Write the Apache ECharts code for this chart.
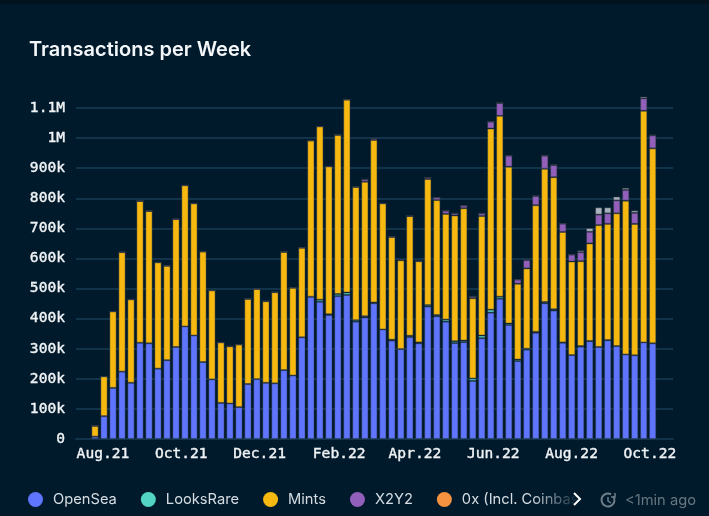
<!DOCTYPE html>
<html lang="en">
<head>
    <meta charset="UTF-8">
    <title>Transactions per Week</title>
    <script src="https://cdn.jsdelivr.net/npm/echarts@6/dist/echarts.min.js"></script>
    <style>
        body, html {
            margin: 0;
            height: 100%;
            background: #001a2c;
        }
        #main {
            width: 709px;
            height: 516px;
        }
    </style>
</head>
<body>
<div id="main"></div>

<script>
    // weekly buckets, thousands of transactions
    const firstWeek = Date.UTC(2021, 6, 26);
    const opensea = [8, 76, 170, 224, 187, 320, 318, 234, 262, 306, 374, 344, 256, 198, 120, 118, 106, 183, 199, 187, 185, 229, 211, 338, 473, 456, 412, 475, 479, 390, 404, 451, 364, 327, 299, 339, 318, 440, 408, 390, 319, 322, 193, 335, 420, 466, 379, 259, 297, 353, 451, 427, 320, 279, 307, 325, 306, 328, 309, 281, 278, 321, 318];
    const looksrare = [0, 0, 0, 0, 0, 0, 0, 0, 0, 0, 0, 0, 0, 0, 0, 0, 0, 0, 0, 0, 0, 0, 0, 0, 0, 7, 3, 7, 8, 5, 4, 3, 0, 3, 0, 4, 3, 5, 4, 7, 6, 5, 8, 9, 10, 7, 5, 5, 3, 3, 4, 4, 1, 0, 2, 1, 0, 1, 0, 0, 0, 0, 0];
    const mints = [36, 132, 254, 397, 277, 471, 440, 353, 314, 425, 469, 439, 367, 296, 201, 190, 208, 283, 300, 271, 303, 393, 292, 298, 519, 576, 491, 529, 641, 443, 447, 540, 419, 342, 295, 398, 270, 419, 382, 351, 418, 440, 267, 397, 602, 601, 521, 252, 267, 421, 443, 439, 367, 311, 282, 324, 405, 386, 441, 511, 437, 770, 648];
    const x2y2 = [0, 0, 0, 0, 0, 0, 0, 0, 0, 0, 0, 0, 0, 0, 0, 0, 0, 0, 0, 0, 0, 0, 0, 0, 0, 0, 0, 0, 0, 0, 8, 5, 0, 0, 3, 0, 0, 5, 9, 11, 7, 9, 6, 9, 23, 43, 37, 14, 28, 31, 44, 41, 28, 23, 30, 39, 35, 35, 43, 36, 37, 41, 43];
    const zeroX = [0, 0, 0, 0, 0, 0, 0, 0, 0, 0, 0, 0, 0, 0, 0, 0, 0, 0, 0, 0, 0, 0, 0, 0, 0, 0, 0, 0, 0, 0, 0, 0, 0, 0, 0, 0, 0, 0, 0, 0, 0, 0, 0, 0, 0, 0, 0, 0, 0, 0, 0, 0, 0, 0, 0, 0, 0, 0, 0, 0, 0, 0, 0];
    const others = [0, 0, 0, 0, 0, 0, 0, 0, 0, 0, 0, 0, 0, 0, 0, 0, 0, 0, 0, 0, 0, 0, 0, 0, 0, 0, 0, 0, 0, 0, 0, 0, 0, 0, 0, 0, 0, 0, 0, 0, 0, 0, 0, 0, 0, 0, 0, 0, 0, 0, 0, 0, 0, 0, 6, 12, 24, 20, 13, 7, 8, 6, 3];

    const tickDates = [Date.UTC(2021, 7, 1), Date.UTC(2021, 9, 1), Date.UTC(2021, 11, 1), Date.UTC(2022, 1, 1), Date.UTC(2022, 3, 1), Date.UTC(2022, 5, 1), Date.UTC(2022, 7, 1), Date.UTC(2022, 9, 1)];
    const tickLabels = ['Aug.21', 'Oct.21', 'Dec.21', 'Feb.22', 'Apr.22', 'Jun.22', 'Aug.22', 'Oct.22'];

    const legendNames = ['OpenSea', 'LooksRare', 'Mints', 'X2Y2', '0x (Incl. Coinbase)'];
    const bg = '#001a2c';
    const gridColor = '#12344a';
    const monoFont = '"DejaVu Sans Mono", monospace';

    function weekly(values) {
        return values.map(function (v, i) {
            return [firstWeek + i * 7 * 86400000, v * 1000];
        });
    }

    function barSeries(name, values, color) {
        return {
            name: name,
            type: 'bar',
            stack: 'tx',
            barWidth: 7.2,
            data: weekly(values),
            itemStyle: {
                color: color,
                borderColor: 'rgba(50,60,70,0.45)',
                borderWidth: 1
            }
        };
    }

    var chart = echarts.init(document.getElementById('main'));

    chart.setOption({
        animation: false,
        backgroundColor: bg,
        title: {
            text: 'Transactions per Week',
            left: 24,
            top: 35,
            textStyle: {
                color: '#f4f7f9',
                fontFamily: 'Inter',
                fontWeight: 600,
                fontSize: 20
            }
        },
        legend: {
            left: 23,
            top: 487,
            itemWidth: 15,
            itemHeight: 15,
            itemGap: 24,
            icon: 'circle',
            data: legendNames,
            itemStyle: { borderWidth: 0 },
            textStyle: {
                color: '#d5dde3',
                fontFamily: 'Inter',
                fontSize: 14.7,
                padding: [0, 0, 0, 5]
            }
        },
        grid: {
            left: 76,
            right: 36,
            top: 93,
            bottom: 77
        },
        xAxis: [
            {
                // bars sit on this one, a time axis so the stack works.
                // the span is a bit tighter than the label axis: echarts keeps
                // half a bar of room at both ends of a bar axis
                type: 'time',
                min: Date.UTC(2021, 6, 14),
                max: Date.UTC(2022, 9, 16),
                axisLine: { onZero: false, lineStyle: { color: gridColor, width: 2 } },
                axisTick: { show: false },
                axisLabel: { show: false },
                splitLine: { show: false }
            },
            {
                // carries the month labels
                type: 'value',
                position: 'bottom',
                min: Date.UTC(2021, 6, 11),
                max: Date.UTC(2022, 9, 19),
                axisLine: { show: false },
                axisTick: { show: false },
                splitLine: { show: false },
                axisLabel: {
                    customValues: tickDates,
                    hideOverlap: false,
                    margin: 8,
                    color: '#f0f3f5',
                    fontFamily: monoFont,
                    fontWeight: 500,
                    fontSize: 14.6,
                    textBorderColor: '#f0f3f5',
                    textBorderWidth: 0.4,
                    formatter: function (value) {
                        return tickLabels[tickDates.indexOf(value)];
                    }
                }
            }
        ],
        yAxis: {
            type: 'value',
            min: 0,
            max: 1150000,
            interval: 100000,
            axisLine: { show: false },
            axisTick: { show: false },
            splitLine: {
                showMaxLine: false,
                lineStyle: { color: gridColor, width: 2 }
            },
            axisLabel: {
                showMaxLabel: false,
                margin: 11,
                color: '#f0f3f5',
                fontFamily: monoFont,
                fontWeight: 500,
                fontSize: 14.6,
                textBorderColor: '#f0f3f5',
                textBorderWidth: 0.4,
                formatter: function (value) {
                    if (value >= 1000000) {
                        return (value / 1000000) + 'M';
                    }
                    return value === 0 ? '0' : (value / 1000) + 'k';
                }
            }
        },
        series: [
            barSeries('OpenSea', opensea, '#5f75fd'),
            barSeries('LooksRare', looksrare, '#53d3c4'),
            barSeries('Mints', mints, '#f7b90f'),
            barSeries('X2Y2', x2y2, '#925fbb'),
            barSeries('0x (Incl. Coinbase)', zeroX, '#f79340'),
            barSeries('Others', others, '#a9b3bd')
        ],
        graphic: [
            // darker strip along the top edge
            { type: 'rect', left: 0, top: 0, z: 10, shape: { width: 709, height: 4 }, style: { fill: '#00131f' } },
            // legend scroll fade
            {
                type: 'rect', left: 530, top: 488, z: 50,
                shape: { width: 50, height: 24 },
                style: {
                    fill: {
                        type: 'linear', x: 0, y: 0, x2: 1, y2: 0,
                        colorStops: [{ offset: 0, color: 'rgba(0,26,44,0)' }, { offset: 1, color: bg }]
                    }
                }
            },
            { type: 'rect', left: 580, top: 488, z: 50, shape: { width: 20, height: 24 }, style: { fill: bg } },
            {
                type: 'polyline', z: 60,
                shape: { points: [[574, 493], [580, 499], [574, 505]] },
                style: { stroke: '#ffffff', lineWidth: 2, fill: null }
            },
            // clock icon
            {
                type: 'arc', z: 60,
                shape: { cx: 608, cy: 500, r: 6.5, startAngle: -0.6, endAngle: 5.2 },
                style: { stroke: '#6f7f8a', lineWidth: 2, fill: null }
            },
            {
                type: 'polyline', z: 60,
                shape: { points: [[608, 497], [608, 501], [611, 503]] },
                style: { stroke: '#6f7f8a', lineWidth: 1.5, fill: null }
            },
            {
                type: 'polyline', z: 60,
                shape: { points: [[615, 493], [615, 497], [611, 497]] },
                style: { stroke: '#6f7f8a', lineWidth: 1.5, fill: null }
            },
            {
                type: 'text', left: 625, top: 493, z: 60,
                style: { text: '<1min ago', fill: '#66777f', font: '14.7px Inter' }
            }
        ]
    });
</script>
</body>
</html>
